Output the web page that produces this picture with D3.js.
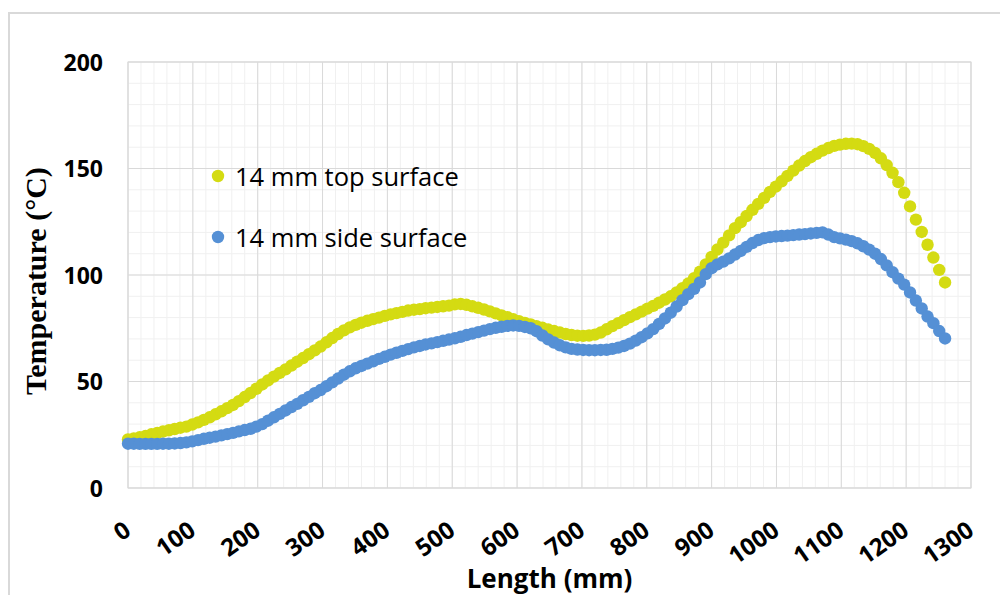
<!DOCTYPE html>
<meta charset="utf-8">
<style>
  body { margin: 0; background: #fff; }
  svg { display: block; }
</style>
<script src="https://d3js.org/d3.v7.min.js"></script>
<body>
<svg id="chart" width="1000" height="595"></svg>
<script>
// sample spacing along the specimen (mm)
var step = 9;

var seriesNames = ["14 mm top surface", "14 mm side surface"];
var seriesColours = ["#d4db12", "#5590d5"];

// 14 mm top surface, one value every 9 mm from 0 to 1260
var topSurface = [
  22.8, 23.3, 23.8, 24.4, 25.2, 25.8, 26.5, 27.1, 27.7, 28.3,
  28.8, 29.8, 30.8, 32.0, 33.2, 34.6, 36.0, 37.5, 39.0, 40.8,
  42.7, 44.6, 46.6, 48.6, 50.5, 52.3, 54.0, 55.7, 57.5, 59.3,
  61.0, 62.8, 64.6, 66.4, 68.4, 70.4, 72.3, 74.0, 75.4, 76.6,
  77.6, 78.5, 79.3, 80.0, 80.8, 81.5, 82.1, 82.7, 83.3, 83.7,
  84.0, 84.4, 84.7, 85.0, 85.3, 85.6, 86.2, 86.4, 86.0, 85.3,
  84.6, 83.8, 82.9, 82.0, 81.0, 80.2, 79.2, 78.3, 77.5, 76.8,
  76.0, 75.2, 74.4, 73.7, 73.0, 72.3, 71.8, 71.5, 71.4, 71.6,
  72.0, 73.0, 74.5, 76.0, 77.4, 78.8, 80.2, 81.5, 82.8, 84.2,
  85.5, 87.0, 88.5, 90.0, 91.8, 93.8, 96.0, 98.5, 101.6, 105.0,
  108.5, 112.0, 115.2, 118.6, 122.0, 124.8, 127.7, 130.6, 133.4, 136.2,
  139.0, 141.5, 144.0, 146.5, 149.0, 151.4, 153.5, 155.3, 156.9, 158.4,
  159.6, 160.6, 161.2, 161.6, 161.7, 161.4, 160.5, 159.2, 157.3, 154.8,
  151.6, 148.0, 143.6, 138.6, 132.2, 126.0, 120.2, 114.2, 108.2, 102.4,
  96.5
];

// 14 mm side surface, same positions
var sideSurface = [
  20.8, 20.8, 20.7, 20.7, 20.7, 20.7, 20.8, 20.8, 20.9, 21.1,
  21.4, 21.9, 22.5, 23.1, 23.6, 24.1, 24.7, 25.3, 25.9, 26.6,
  27.2, 27.8, 28.8, 30.0, 31.6, 33.2, 34.8, 36.4, 38.0, 39.5,
  41.2, 42.8, 44.5, 46.0, 47.8, 49.6, 51.4, 53.2, 54.8, 56.2,
  57.3, 58.4, 59.5, 60.6, 61.6, 62.6, 63.5, 64.4, 65.2, 66.0,
  66.7, 67.4, 67.9, 68.5, 69.1, 69.7, 70.3, 71.0, 71.8, 72.5,
  73.2, 73.9, 74.6, 75.2, 75.7, 76.1, 76.3, 76.1, 75.6, 75.0,
  73.6, 71.6, 69.8, 68.3, 67.0, 66.0, 65.3, 65.0, 64.8, 64.7,
  64.7, 64.8, 64.9, 65.3, 65.9, 66.7, 67.8, 69.2, 70.8, 72.6,
  74.6, 77.0, 79.6, 82.3, 85.2, 88.2, 91.0, 93.5, 96.5, 100.4,
  103.2, 105.0, 106.3, 107.8, 109.6, 111.3, 113.2, 115.0, 116.4, 117.3,
  117.8, 118.1, 118.3, 118.5, 118.7, 119.0, 119.2, 119.5, 119.8, 120.0,
  119.0, 117.8, 117.2, 116.6, 115.9, 114.9, 113.5, 111.9, 110.0, 107.5,
  104.5, 101.3, 98.3, 95.5, 91.8, 88.0, 84.3, 80.5, 77.4, 73.7,
  70.2
];

var xTicks = [0, 100, 200, 300, 400, 500, 600, 700, 800, 900, 1000, 1100, 1200, 1300];
var yTicks = [0, 50, 100, 150, 200];

var svg = d3.select("#chart");
var plotL = 128, plotR = 971, plotT = 62, plotB = 488;

var x = d3.scaleLinear().domain([0, 1300]).range([plotL, plotR]);
var y = d3.scaleLinear().domain([0, 200]).range([plotB, plotT]);

// outer chart frame (runs off the right and bottom of the picture)
svg.append("rect")
  .attr("x", 9).attr("y", 13).attr("width", 1010).attr("height", 620)
  .attr("fill", "#fff").attr("stroke", "#d9d9d9").attr("stroke-width", 2);

var grid = svg.append("g");

// minor grid
grid.selectAll(".vminor").data(d3.range(0, 1301, 20)).enter().append("line")
  .attr("x1", d => x(d)).attr("x2", d => x(d)).attr("y1", plotT).attr("y2", plotB)
  .attr("stroke", "#f0f0f0");
grid.selectAll(".hminor").data(d3.range(0, 201, 10)).enter().append("line")
  .attr("y1", d => y(d)).attr("y2", d => y(d)).attr("x1", plotL).attr("x2", plotR)
  .attr("stroke", "#f0f0f0");

// major grid
grid.selectAll(".vmajor").data(xTicks).enter().append("line")
  .attr("x1", d => x(d)).attr("x2", d => x(d)).attr("y1", plotT).attr("y2", plotB)
  .attr("stroke", "#d9d9d9");
grid.selectAll(".hmajor").data(yTicks).enter().append("line")
  .attr("y1", d => y(d)).attr("y2", d => y(d)).attr("x1", plotL).attr("x2", plotR)
  .attr("stroke", "#d9d9d9");

grid.append("rect")
  .attr("x", plotL).attr("y", plotT).attr("width", plotR - plotL).attr("height", plotB - plotT)
  .attr("fill", "none").attr("stroke", "#d9d9d9");

// y tick labels
var yAxis = d3.axisLeft(y).tickValues(yTicks).tickSize(0).tickPadding(25);
svg.append("g")
  .attr("transform", "translate(" + plotL + ",0)")
  .call(yAxis)
  .call(g => g.select(".domain").remove())
  .selectAll("text")
  .attr("dy", "0.36em")
  .style("font-family", "'Open Sans', sans-serif")
  .style("font-weight", "bold")
  .style("font-size", "23px")
  .attr("fill", "#000");

// x tick labels, slanted
svg.append("g").selectAll("text").data(xTicks).enter().append("text")
  .attr("transform", d => "translate(" + (x(d) - 1) + "," + 526 + ") rotate(-35)")
  .attr("text-anchor", "end")
  .attr("dominant-baseline", "central")
  .style("font-family", "'Open Sans', sans-serif")
  .style("font-weight", "bold")
  .style("font-size", "24px")
  .text(d => d);

// axis titles
svg.append("text")
  .attr("x", (plotL + plotR) / 2).attr("y", 588)
  .attr("text-anchor", "middle")
  .style("font-family", "'Open Sans', sans-serif")
  .style("font-weight", "bold")
  .style("font-size", "26px")
  .text("Length (mm)");

svg.append("text")
  .attr("transform", "translate(46,395) rotate(-90)")
  .attr("text-anchor", "start")
  .style("font-family", "'Liberation Serif', 'Times New Roman', serif")
  .style("font-weight", "bold")
  .style("font-size", "30px")
  .text("Temperature (°C)");

// markers
var series = [topSurface, sideSurface];
series.forEach(function(vals, k) {
  svg.append("g").selectAll("circle").data(vals).enter().append("circle")
    .attr("cx", (d, i) => x(i * step))
    .attr("cy", d => y(d))
    .attr("r", 6.2)
    .attr("fill", seriesColours[k]);
});

// legend
var legend = svg.append("g").selectAll("g").data(seriesNames).enter().append("g")
  .attr("transform", (d, i) => "translate(218," + (176 + i * 61) + ")");
legend.append("circle").attr("r", 6.2).attr("fill", (d, i) => seriesColours[i]);
legend.append("text")
  .attr("x", 17).attr("dominant-baseline", "central")
  .style("font-family", "'Open Sans', sans-serif")
  .style("font-size", "25.5px")
  .text(d => d);
</script>
</body>
